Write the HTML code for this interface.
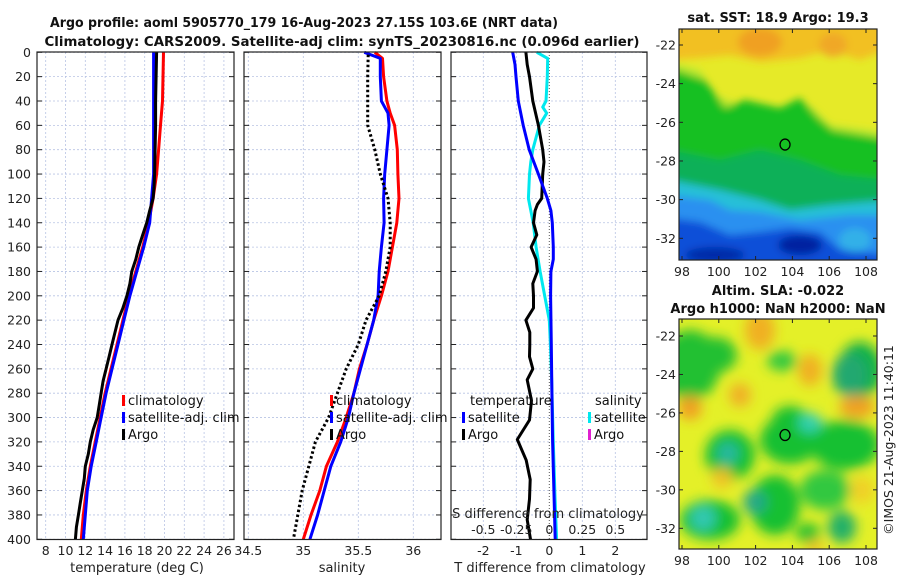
<!DOCTYPE html>
<html><head><meta charset="utf-8"><style>
html,body{margin:0;padding:0;background:#fff;}
svg{display:block;font-family:"DejaVu Sans","Liberation Sans",sans-serif;}
</style></head><body>
<svg id="fig" width="900" height="580" viewBox="0 0 900 580" xmlns="http://www.w3.org/2000/svg">
<defs>
<filter id="bl" x="-20%" y="-20%" width="140%" height="140%"><feGaussianBlur stdDeviation="4"/></filter>
<filter id="bl2" x="-50%" y="-50%" width="200%" height="200%"><feGaussianBlur stdDeviation="6"/></filter>
<clipPath id="cm1"><rect x="679" y="29" width="198" height="231"/></clipPath>
<clipPath id="cm2"><rect x="679" y="319" width="198" height="230"/></clipPath>
</defs>
<g font-weight="bold" font-size="13" text-anchor="middle" fill="#111">
<text x="304" y="27" textLength="508" lengthAdjust="spacingAndGlyphs">Argo profile: aoml 5905770_179 16-Aug-2023 27.15S 103.6E (NRT data)</text>
<text x="342" y="46" textLength="595" lengthAdjust="spacingAndGlyphs">Climatology: CARS2009. Satellite-adj clim: synTS_20230816.nc (0.096d earlier)</text>
<text x="778" y="22">sat. SST: 18.9 Argo: 19.3</text>
<text x="778" y="295">Altim. SLA: -0.022</text>
<text x="778" y="313">Argo h1000: NaN h2000: NaN</text>
</g>
<g id="maps"></g>
<g id="panels"></g>
<text transform="translate(893,440) rotate(-90)" font-size="12.5" text-anchor="middle" fill="#222">©IMOS 21-Aug-2023 11:40:11</text>
</svg>
<script>
const depths = [0,20,40,60,80,100,120,140,160,180,200,220,240,260,280,300,320,340,360,380,400];
const tempClim = [19.9,19.85,19.8,19.6,19.4,19.2,18.85,18.4,17.8,17.1,16.4,15.8,15.2,14.6,14.0,13.5,13.0,12.5,12.1,11.8,11.6];
const tempSat  = [18.9,18.9,18.9,18.9,18.9,18.9,18.7,18.5,17.9,17.2,16.5,15.9,15.3,14.7,14.1,13.6,13.1,12.6,12.2,12.0,11.8];
const tempArgoDepths = [0,20,40,60,80,100,110,120,130,140,150,160,170,180,190,200,210,220,230,240,250,260,270,280,290,300,310,320,330,340,350,360,370,380,390,400];
const tempArgo = [19.2,19.15,19.1,19.1,19.05,19.0,18.95,18.85,18.5,18.2,17.8,17.4,17.1,16.7,16.5,16.2,15.8,15.3,15.0,14.7,14.4,14.1,13.8,13.6,13.4,13.2,12.8,12.5,12.3,12.0,11.9,11.7,11.5,11.3,11.1,11.0];
const salDepths = [0,5,20,40,50,60,80,100,120,140,160,180,200,220,240,260,280,300,320,340,360,380,400];
const salClim = [35.65,35.72,35.73,35.76,35.79,35.83,35.855,35.86,35.87,35.85,35.81,35.77,35.71,35.64,35.58,35.51,35.46,35.39,35.31,35.21,35.15,35.07,35.0];
const salSat  = [35.555,35.70,35.70,35.71,35.77,35.78,35.76,35.74,35.73,35.735,35.71,35.69,35.68,35.64,35.58,35.52,35.46,35.41,35.34,35.25,35.19,35.13,35.06];
const salArgoDepths = [2,20,40,60,80,100,120,140,160,180,200,220,240,260,280,300,320,340,360,380,400];
const salArgo = [35.59,35.585,35.585,35.585,35.65,35.70,35.77,35.79,35.79,35.75,35.69,35.57,35.50,35.39,35.31,35.23,35.11,35.05,34.99,34.95,34.91];
const dT_depths = [0,10,20,40,60,80,100,120,130,140,160,170,180,200,240,280,320,360,400];
const dT_sat = [-1.11,-1.04,-1.01,-0.94,-0.79,-0.61,-0.33,-0.06,0.05,0.09,0.12,0.12,0.05,0.04,0.06,0.08,0.1,0.14,0.18];
const dT_argoDepths = [0,10,20,40,60,80,90,100,120,125,130,140,150,160,170,180,190,200,210,220,230,240,250,260,269,286,302,318,335,351,367,384,400];
const dT_argo = [-0.71,-0.67,-0.6,-0.5,-0.33,-0.2,-0.16,-0.2,-0.23,-0.36,-0.43,-0.48,-0.38,-0.55,-0.4,-0.36,-0.5,-0.48,-0.48,-0.71,-0.59,-0.59,-0.6,-0.5,-0.67,-0.54,-0.6,-0.97,-0.7,-0.58,-0.6,-0.67,-0.57];
const dS_depths = [0,5,20,40,45,50,60,80,90,100,120,130,140,160,180,200,220,240,270,320,360,400];
const dS_sat = [-0.095,-0.012,-0.015,-0.025,-0.05,-0.02,-0.075,-0.125,-0.14,-0.15,-0.158,-0.14,-0.122,-0.1,-0.07,-0.035,0,0.008,0.018,0.03,0.042,0.055];
const depthTicks = [0,20,40,60,80,100,120,140,160,180,200,220,240,260,280,300,320,340,360,380,400];
const tempTicks = [8,10,12,14,16,18,20,22,24,26];
const salTicks = [34.5,35,35.5,36];
const dTTicks = [-2,-1,0,1,2];
const dSTickLabels = ["-0.5","-0.25","0","0.25","0.5"];
const dSTicks = [-0.5,-0.25,0,0.25,0.5];
const lonTicks = [98,100,102,104,106,108];
const latTicks = [-22,-24,-26,-28,-30,-32];
const argoLon = 103.6, argoLat = -27.15;

const NS="http://www.w3.org/2000/svg";
function mk(tag,attrs,parent,txt){const e=document.createElementNS(NS,tag);for(const k in attrs)e.setAttribute(k,attrs[k]);if(txt!==undefined)e.textContent=txt;parent.appendChild(e);return e;}
const yD = d => 52.3 + d*1.2175;
const x1 = t => 45.7 + (t-8)*9.9;
const x2 = s => 248.3 + (s-34.5)*110;
const x3 = v => 549.3 + v*33;
const x3s = s => 549.3 + s*4*33;
const P = document.getElementById('panels');
const panels=[{x:37,w:197},{x:244,w:197},{x:451,w:196}];
const PT=52, PB=539.5;

function vgrid(xs){xs.forEach(x=>{mk('line',{x1:x,x2:x,y1:PT,y2:PB,stroke:'#b8c4e4','stroke-width':0.8,'stroke-dasharray':'2,2'},P);});}
panels.forEach((p,i)=>{
  depthTicks.forEach(d=>{mk('line',{x1:p.x,x2:p.x+p.w,y1:yD(d),y2:yD(d),stroke:'#b8c4e4','stroke-width':0.8,'stroke-dasharray':'2,2'},P);});
});
vgrid(tempTicks.map(x1)); vgrid(salTicks.map(x2)); vgrid(dTTicks.filter(v=>v!==0).map(x3));
mk('line',{x1:x3(0),x2:x3(0),y1:PT,y2:PB,stroke:'#555','stroke-width':1,'stroke-dasharray':'1,2'},P);

function line(xs,ds,fx,color,w,dash,name){
  const pts=xs.map((v,i)=>fx(v).toFixed(1)+','+yD(ds[i]).toFixed(1)).join(' ');
  const a={points:pts,fill:'none',stroke:color,'stroke-width':w,'stroke-linejoin':'round'};
  if(dash)a['stroke-dasharray']=dash;
  const e=mk('polyline',a,P);
  
  
}
line(tempClim,depths,x1,'#f00',3,null,'temp-climatology-line');
line(tempSat,depths,x1,'#00f',3,null,'temp-satellite-line');
line(tempArgo,tempArgoDepths,x1,'#000',3,null,'temp-argo-line');
line(salClim,salDepths,x2,'#f00',3,null,'sal-climatology-line');
line(salSat,salDepths,x2,'#00f',3,null,'sal-satellite-line');
line(salArgo,salArgoDepths,x2,'#000',3,'2.5,2.5','sal-argo-line');
line(dS_sat,dS_depths,x3s,'#00e8ee',3,null,'sdiff-satellite-line');
line(dT_argo,dT_argoDepths,x3,'#000',3,null,'tdiff-argo-line');
line(dT_sat,dT_depths,x3,'#00f',3,null,'tdiff-satellite-line');

panels.forEach((p,i)=>{
  const r=mk('rect',{x:p.x,y:PT,width:p.w,height:PB-PT,fill:'none',stroke:'#222','stroke-width':1.2},P);
  
  
  depthTicks.forEach(d=>{
    mk('line',{x1:p.x,x2:p.x+5,y1:yD(d),y2:yD(d),stroke:'#222'},P);
    mk('line',{x1:p.x+p.w-5,x2:p.x+p.w,y1:yD(d),y2:yD(d),stroke:'#222'},P);
  });
});
depthTicks.forEach(d=>{
  const t=mk('text',{x:31,y:yD(d)+4.5,'font-size':12.5,'text-anchor':'end',fill:'#222'},P,String(d));
  
  
});
function xlabels(ticks,fx,labels,y){ticks.forEach((v,i)=>{
  const t=mk('text',{x:fx(v),y:y,'font-size':12.5,'text-anchor':'middle',fill:'#222'},P,labels?labels[i]:String(v));
  
  
});}
xlabels(tempTicks,x1,null,555);
xlabels(salTicks,x2,null,555);
xlabels(dTTicks,x3,null,555);
xlabels(dSTicks,x3s,dSTickLabels,534);
[['temperature (deg C)',137,'temp-axis-title'],['salinity',342,'salinity-axis-title'],['T difference from climatology',550,'tdiff-axis-title']].forEach(a=>{
  const t=mk('text',{x:a[1],y:572,'font-size':13,'text-anchor':'middle',fill:'#222'},P,a[0]);
  
  
});
{const t=mk('text',{x:548,y:518,'font-size':13,'text-anchor':'middle',fill:'#222'},P,'S difference from climatology');
}

function legend(x,y,color,label,name){
  mk('rect',{x:x,y:y-10,width:3,height:11,fill:color},P);
  const t=mk('text',{x:x+6,y:y,'font-size':13,fill:'#111'},P,label);
  
  
}
legend(122,405,'#f00','climatology','legend-climatology');
legend(122,422,'#00f','satellite-adj. clim','legend-satellite-adj');
legend(122,439,'#000','Argo','legend-argo');
legend(330,405,'#f00','climatology','legend-climatology-2');
legend(330,422,'#00f','satellite-adj. clim','legend-satellite-adj-2');
legend(330,439,'#000','Argo','legend-argo-2');
{const t=mk('text',{x:470,y:405,'font-size':13,fill:'#111'},P,'temperature');}
{const t=mk('text',{x:595,y:405,'font-size':13,fill:'#111'},P,'salinity');}
legend(462,422,'#00f','satellite','legend-t-satellite');
legend(462,439,'#000','Argo','legend-t-argo');
legend(588,422,'#00e8ee','satellite','legend-s-satellite');
legend(588,439,'#e020d0','Argo','legend-s-argo');

const M=document.getElementById('maps');
const lonX = lon => 682 + (lon-98)*18.4;
const lat1 = lat => 45 + (-22-lat)*19.33;
const lat2 = lat => 336 + (-22-lat)*19.23;
const g1=mk('g',{'clip-path':'url(#cm1)'},M);


mk('rect',{x:679,y:29,width:198,height:231,fill:'#e6ea28'},g1);
const gb=mk('g',{filter:'url(#bl)'},g1);
mk('path',{d:'M670 20 H890 V48 L860 60 L830 50 L800 58 L760 62 L730 55 L700 58 L670 60Z',fill:'#f2c020'},gb);
mk('ellipse',{cx:760,cy:42,rx:22,ry:14,fill:'#f0a020'},gb);
mk('ellipse',{cx:833,cy:45,rx:14,ry:12,fill:'#f0a828'},gb);
mk('path',{d:'M670 62 L700 70 L715 95 L740 105 L775 110 L800 100 L815 110 L830 125 L870 130 L890 135 V270 H670Z',fill:'#b8e830'},gb);
mk('path',{d:'M670 68 L705 80 L725 108 L745 100 L780 108 L800 98 L818 118 L832 130 L880 138 L890 140 V270 H670Z',fill:'#18c020'},gb);
mk('path',{d:'M670 150 L720 160 L760 150 L800 160 L840 175 L890 180 V270 H670Z',fill:'#10b058'},gb);
mk('path',{d:'M670 180 L720 190 L760 200 L790 210 L830 205 L890 200 V270 H670Z',fill:'#28c0d8'},gb);
mk('path',{d:'M670 195 L710 200 L730 210 L760 212 L800 220 L850 215 L890 215 V270 H670Z',fill:'#2a90f0'},gb);
mk('path',{d:'M670 218 L700 222 L730 235 L760 232 L790 228 L820 232 L840 250 L890 255 V270 H670Z',fill:'#0a50d8'},gb);
mk('ellipse',{cx:715,cy:255,rx:30,ry:8,fill:'#002aa8'},gb);
mk('ellipse',{cx:800,cy:245,rx:22,ry:10,fill:'#0020a0'},gb);
mk('ellipse',{cx:855,cy:240,rx:16,ry:12,fill:'#30b0e8'},gb);
const g2=mk('g',{'clip-path':'url(#cm2)'},M);


mk('rect',{x:679,y:319,width:198,height:230,fill:'#e4f028'},g2);
const gc=mk('g',{filter:'url(#bl2)'},g2);
const blobs=[[690,365,30,35,'#20c030'],[715,355,22,18,'#20c030'],[860,370,22,28,'#10b048'],[850,375,18,22,'#20a870'],
[790,440,30,24,'#18c030'],[790,420,18,14,'#18c030'],[810,423,12,10,'#30d0b0'],[730,455,25,25,'#18c030'],[728,453,11,11,'#28b8a0'],
[775,505,25,30,'#18c030'],[755,502,12,12,'#20a888'],[710,520,30,20,'#18c030'],[703,518,13,13,'#30c8b0'],[845,445,35,25,'#18c030'],
[825,490,25,20,'#30c840'],[842,527,14,16,'#20b068'],[808,533,12,10,'#20c030'],[782,361,15,10,'#30c840'],
[760,330,15,20,'#f0b020'],[810,370,12,16,'#f0b020'],[690,408,12,12,'#f0a020'],[740,395,11,12,'#f0b028'],[857,407,18,11,'#f0a020'],[722,478,10,10,'#f0c028'],[862,490,12,14,'#f0d028'],[815,548,8,8,'#f0c028']];
blobs.forEach(b=>mk('ellipse',{cx:b[0],cy:b[1],rx:b[2],ry:b[3],fill:b[4]},gc));
[[29,260,lat1,1],[319,549,lat2,2]].forEach(m=>{
  const f=mk('rect',{x:679,y:m[0],width:198,height:m[1]-m[0],fill:'none',stroke:'#222','stroke-width':1.2},M);
  
  
  latTicks.forEach(l=>{const y=m[2](l);
    mk('line',{x1:679,x2:683,y1:y,y2:y,stroke:'#222'},M);mk('line',{x1:873,x2:877,y1:y,y2:y,stroke:'#222'},M);
    const t=mk('text',{x:676,y:y+4.5,'font-size':12.5,'text-anchor':'end',fill:'#222'},M,String(l));
    });
  lonTicks.forEach(l=>{const x=lonX(l);
    mk('line',{x1:x,x2:x,y1:m[1]-4,y2:m[1],stroke:'#222'},M);mk('line',{x1:x,x2:x,y1:m[0],y2:m[0]+4,stroke:'#222'},M);
    const t=mk('text',{x:x,y:m[1]+16,'font-size':12.5,'text-anchor':'middle',fill:'#222'},M,String(l));
    });
  const c=mk('ellipse',{cx:lonX(argoLon),cy:m[2](argoLat),rx:5,ry:5.5,fill:'none',stroke:'#000','stroke-width':1.3},M);
  
  
});
</script>
</body></html>
